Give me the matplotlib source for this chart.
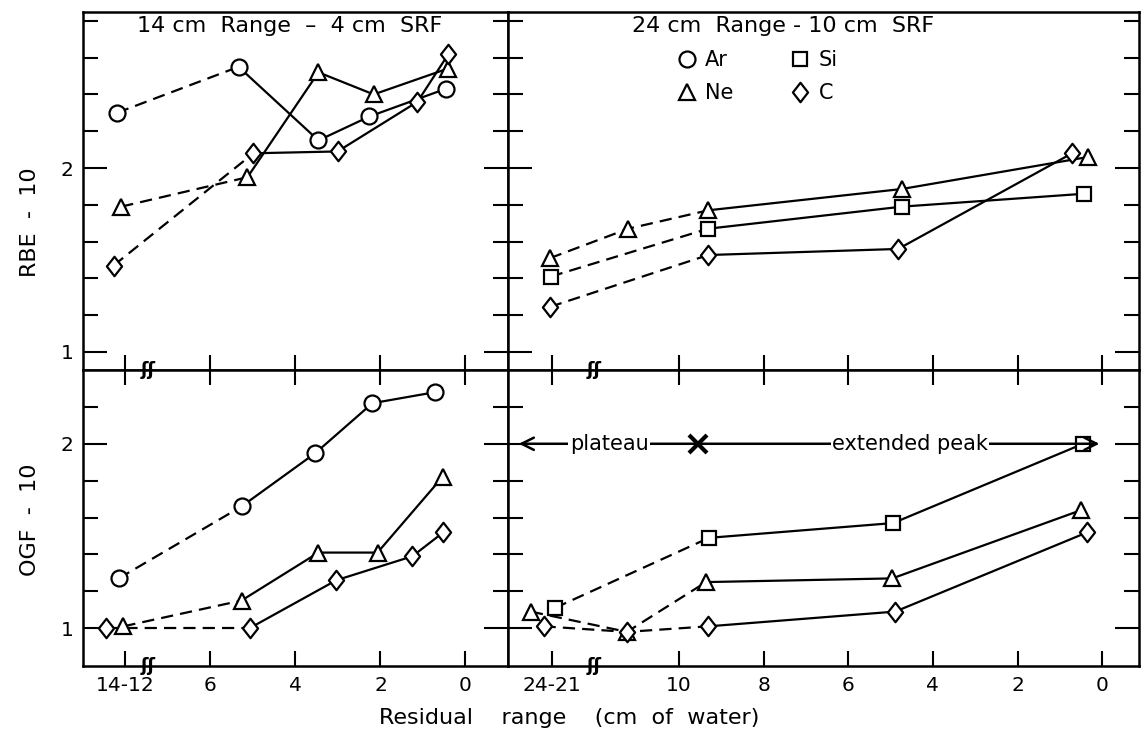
import matplotlib
matplotlib.use('Agg')
import matplotlib.pyplot as plt
from matplotlib.lines import Line2D
from matplotlib.path import Path

plt.rcParams['font.family'] = ['DejaVu Sans']

# ---------------- data (x = position on broken residual-range axis) ----------------
# top-left: RBE-10, 14 cm range - 4 cm SRF
tl_ar_x = [8.2, 5.34, 3.46, 2.26, 0.47]
tl_ar_y = [2.30, 2.55, 2.15, 2.28, 2.43]
tl_ne_x = [8.1, 5.13, 3.46, 2.16, 0.42]
tl_ne_y = [1.79, 1.95, 2.52, 2.40, 2.54]
tl_c_x = [8.28, 4.99, 3.01, 1.13, 0.40]
tl_c_y = [1.47, 2.08, 2.09, 2.36, 2.62]

# top-right: RBE-10, 24 cm range - 10 cm SRF
tr_ne_x = [13.05, 11.2, 9.31, 4.73, 0.33]
tr_ne_y = [1.51, 1.67, 1.77, 1.886, 2.06]
tr_si_x = [13.03, 9.31, 4.73, 0.43]
tr_si_y = [1.41, 1.67, 1.79, 1.86]
tr_c_x = [13.05, 9.31, 4.82, 0.71]
tr_c_y = [1.245, 1.527, 1.56, 2.08]

# bottom-left: OGF-10, 14 cm range
bl_ar_x = [8.16, 5.27, 3.53, 2.19, 0.71]
bl_ar_y = [1.27, 1.66, 1.95, 2.22, 2.28]
bl_ne_x = [8.05, 5.27, 3.46, 2.07, 0.54]
bl_ne_y = [1.01, 1.15, 1.41, 1.41, 1.82]
bl_c_x = [8.45, 5.08, 3.04, 1.25, 0.52]
bl_c_y = [1.0, 1.0, 1.26, 1.39, 1.52]

# bottom-right: OGF-10, 24 cm range
br_si_x = [12.93, 9.29, 4.94, 0.45]
br_si_y = [1.11, 1.49, 1.57, 2.0]
br_ne_x = [13.5, 11.23, 9.36, 4.96, 0.50]
br_ne_y = [1.09, 0.98, 1.25, 1.27, 1.64]
br_c_x = [13.2, 11.23, 9.31, 4.89, 0.35]
br_c_y = [1.01, 0.98, 1.01, 1.09, 1.52]

left_xticks = [8, 6, 4, 2, 0]
left_xlabels = ['14-12', '6', '4', '2', '0']
right_xticks = [13, 10, 8, 6, 4, 2, 0]
right_xlabels = ['24-21', '10', '8', '6', '4', '2', '0']

# ---------------- styling ----------------
diamond = Path([(0, 1), (0.78, 0), (0, -1), (-0.78, 0), (0, 1)],
               [Path.MOVETO, Path.LINETO, Path.LINETO, Path.LINETO, Path.CLOSEPOLY])
MK = {'Ar': dict(marker='o', ms=11.5),
      'Ne': dict(marker='^', ms=11.5),
      'Si': dict(marker='s', ms=9.5),
      'C': dict(marker=diamond, ms=14)}
LW = 1.6
DASH = (5.5, 3.2)

W, H = 1141, 734
fig = plt.figure(figsize=(W / 100, H / 100), dpi=100)


def ax_at(x0, y0, x1, y1):
    return fig.add_axes([x0 / W, 1 - y1 / H, (x1 - x0) / W, (y1 - y0) / H])


ax_tl = ax_at(83, 12, 508, 370)
ax_tr = ax_at(508, 12, 1139, 370)
ax_bl = ax_at(83, 370, 508, 666)
ax_br = ax_at(508, 370, 1139, 666)


def series(ax, x, y, kind, ndash):
    ax.plot(x[:ndash + 1], y[:ndash + 1], color='black', lw=LW, ls=(0, DASH), zorder=2)
    ax.plot(x[ndash:], y[ndash:], color='black', lw=LW, ls='-', zorder=2)
    ax.plot(x, y, ls='none', mfc='white', mec='black', mew=1.6, zorder=3, **MK[kind])


series(ax_tl, tl_ar_x, tl_ar_y, 'Ar', 1)
series(ax_tl, tl_ne_x, tl_ne_y, 'Ne', 1)
series(ax_tl, tl_c_x, tl_c_y, 'C', 1)

series(ax_tr, tr_ne_x, tr_ne_y, 'Ne', 2)
series(ax_tr, tr_si_x, tr_si_y, 'Si', 1)
series(ax_tr, tr_c_x, tr_c_y, 'C', 1)

series(ax_bl, bl_ar_x, bl_ar_y, 'Ar', 1)
series(ax_bl, bl_ne_x, bl_ne_y, 'Ne', 1)
series(ax_bl, bl_c_x, bl_c_y, 'C', 1)

series(ax_br, br_si_x, br_si_y, 'Si', 1)
series(ax_br, br_ne_x, br_ne_y, 'Ne', 2)
series(ax_br, br_c_x, br_c_y, 'C', 2)

# ---------------- axes ----------------
for ax in (ax_tl, ax_bl):
    ax.set_xlim(9.0, -1.0)
    ax.set_xticks(left_xticks)
for ax in (ax_tr, ax_br):
    ax.set_xlim(14.04, -0.87)
    ax.set_xticks(right_xticks)
for ax in (ax_tl, ax_tr):
    ax.set_ylim(0.902, 2.848)
    ax.set_yticks([1, 2])
    ax.set_yticks([1.2, 1.4, 1.6, 1.8, 2.2, 2.4, 2.6, 2.8], minor=True)
for ax in (ax_bl, ax_br):
    ax.set_ylim(0.795, 2.40)
    ax.set_yticks([1, 2])
    ax.set_yticks([1.2, 1.4, 1.6, 1.8, 2.2], minor=True)

for ax in (ax_tl, ax_tr, ax_bl, ax_br):
    for s in ax.spines.values():
        s.set_linewidth(1.8)
    ax.tick_params(which='both', direction='in', width=1.5, left=True, right=True,
                   labelsize=14.5, pad=7)
    ax.tick_params(axis='y', which='major', length=17)
    ax.tick_params(axis='y', which='minor', length=11)
    ax.tick_params(axis='x', which='major', length=11)

for ax in (ax_tl, ax_tr):
    ax.tick_params(axis='x', top=False, bottom=True, labelbottom=False)
for ax in (ax_bl, ax_br):
    ax.tick_params(axis='x', top=True, bottom=True)
ax_bl.set_xticklabels(left_xlabels)
ax_br.set_xticklabels(right_xlabels)
for ax in (ax_tr, ax_br):
    ax.tick_params(axis='y', labelleft=False)

# break marks on x axes
for ax, xb in ((ax_bl, 7.46), (ax_br, 12.0)):
    for yy in (0.0, 1.0):
        ax.text(xb, yy, 'ʃʃ', transform=ax.get_xaxis_transform(), ha='center', va='center',
                fontsize=13, fontweight='bold', clip_on=False, zorder=5)

# titles
ax_tl.text(0.487, 0.962, '14 cm  Range  –  4 cm  SRF', transform=ax_tl.transAxes,
           ha='center', va='center', fontsize=16)
ax_tr.text(0.436, 0.962, '24 cm  Range - 10 cm  SRF', transform=ax_tr.transAxes,
           ha='center', va='center', fontsize=16)

# legend
handles = [Line2D([], [], ls='none', mfc='white', mec='black', mew=1.6, **MK[k]) for k in ('Ar', 'Ne', 'Si', 'C')]
ax_tr.legend(handles, ['Ar', 'Ne', 'Si', 'C'], ncol=2, frameon=False, loc='upper left',
             bbox_to_anchor=(0.24, 0.945), fontsize=15, handlelength=0.8, handletextpad=0.5,
             columnspacing=2.8, labelspacing=0.6)

# plateau / extended peak annotation
ax_br.annotate('', xy=(13.85, 2.0), xytext=(9.55, 2.0),
               arrowprops=dict(arrowstyle='->', lw=1.8, color='black', mutation_scale=22))
ax_br.annotate('', xy=(0.0, 2.0), xytext=(9.55, 2.0),
               arrowprops=dict(arrowstyle='->', lw=1.8, color='black', mutation_scale=22))
ax_br.plot([9.55], [2.0], marker='x', ms=13, mew=3, color='black', zorder=4)
ax_br.text(11.65, 2.0, 'plateau', ha='center', va='center', fontsize=15,
           bbox=dict(facecolor='white', edgecolor='none', pad=1))
ax_br.text(4.54, 2.0, 'extended peak', ha='center', va='center', fontsize=15,
           bbox=dict(facecolor='white', edgecolor='none', pad=1))

# axis labels
fig.text(30 / W, 1 - 222 / H, 'RBE  -  10', rotation=90, ha='center', va='center', fontsize=16)
fig.text(30 / W, 1 - 520 / H, 'OGF  -  10', rotation=90, ha='center', va='center', fontsize=16)
fig.text(569 / W, 1 - 718 / H, 'Residual    range    (cm  of  water)', ha='center', va='center',
         fontsize=16)

fig.savefig('out.png', dpi=100)
